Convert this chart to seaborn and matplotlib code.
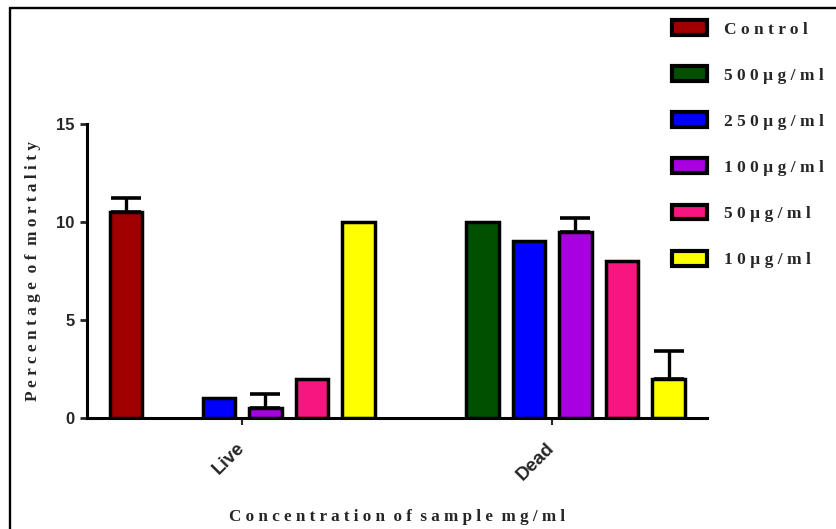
import numpy as np
import pandas as pd
import matplotlib
matplotlib.use("Agg")
import matplotlib.pyplot as plt
import matplotlib.patches as mpatches
from matplotlib.lines import Line2D
import seaborn as sns

# Daten
groups = ["Live", "Dead"]
concs = ["Control", "500 µg/ml", "250 µg/ml", "100 µg/ml", "50 µg/ml", "10 µg/ml"]
live_vals = [10.5, np.nan, 1.0, 0.5, 2.0, 10.0]
dead_vals = [np.nan, 10.0, 9.0, 9.5, 8.0, 2.0]
live_err = [0.7, 0.0, 0.0, 0.7, 0.0, 0.0]
dead_err = [0.0, 0.0, 0.0, 0.7, 0.0, 1.4]
colors = ["#a00000", "#005000", "#0000ff", "#a800e0", "#f5177f", "#ffff00"]
yticks = [0, 5, 10, 15]


def spaced(s, gap="  "):
    # Buchstaben gesperrt wie im Original
    return gap.join(" ".join(w) for w in s.split())


rows = []
for c, lv, dv, le, de in zip(concs, live_vals, dead_vals, live_err, dead_err):
    rows.append({"group": "Live", "conc": c, "value": lv, "err": le})
    rows.append({"group": "Dead", "conc": c, "value": dv, "err": de})
df = pd.DataFrame(rows)

sns.set_style("white")
serif = {"family": "Liberation Serif", "weight": "bold"}
sans = {"family": "Liberation Sans", "weight": "bold"}

fig = plt.figure(figsize=(8.37, 5.29), dpi=100)
ax = fig.add_axes([0.104, 0.21, 0.741, 0.556])

sns.barplot(data=df, x="group", y="value", hue="conc", order=groups,
            hue_order=concs, palette=colors, saturation=1, width=0.9, gap=0.3,
            edgecolor="black", linewidth=2.5, errorbar=None,
            legend=False, ax=ax)

# Fehlerbalken (nur nach oben) an den gezeichneten Balken
valid = df.dropna(subset=["value"])
valid = valid.set_index(["conc", "group"])
ordered = [(c, g) for c in concs for g in groups if (c, g) in valid.index]
for patch, key in zip(ax.patches, ordered):
    err = valid.loc[key, "err"]
    if err > 0:
        xc = patch.get_x() + patch.get_width() / 2
        ax.errorbar(xc, patch.get_height(), yerr=[[0], [err]], color="black",
                    elinewidth=2.4, capsize=11, capthick=2.6, zorder=1)

ax.set_xlim(-0.5, 1.5)
ax.set_ylim(0, 15)
ax.set_yticks(yticks)
ax.set_yticklabels([str(t) for t in yticks], fontdict=sans, fontsize=12)
ax.set_xticks(range(len(groups)))
ax.set_xticklabels(groups, fontdict=sans, fontsize=13.5, rotation=45,
                   ha="right", va="center", rotation_mode="anchor")
ax.tick_params(axis="y", length=5, width=2, direction="out", left=True, pad=4)
ax.tick_params(axis="x", length=5, width=1.5, direction="out", bottom=True, pad=15)

for side in ["top", "right"]:
    ax.spines[side].set_visible(False)
for side in ["left", "bottom"]:
    ax.spines[side].set_linewidth(2.2)
    ax.spines[side].set_color("black")

ax.set_xlabel(spaced("Concentration of sample mg/ml"), fontdict=serif,
              fontsize=12.3, labelpad=18)
ax.set_ylabel(spaced("Percentage of mortality"), fontdict=serif,
              fontsize=12.4, labelpad=11)

handles = [mpatches.Patch(facecolor=col, edgecolor="black", linewidth=3)
           for col in colors]
ax.legend(handles, [spaced(c, " ") for c in concs], loc="upper left",
          bbox_to_anchor=(0.803, 0.962), bbox_transform=fig.transFigure,
          frameon=False, borderpad=0, borderaxespad=0,
          handlelength=2.0, handleheight=0.95, handletextpad=1.0,
          labelspacing=1.65, prop={"family": "Liberation Serif",
                                   "weight": "bold", "size": 12.5})

# Rahmen oben und links
fig.add_artist(Line2D([0.012, 1.0], [0.985, 0.985], transform=fig.transFigure,
                      color="black", linewidth=1.7))
fig.add_artist(Line2D([0.012, 0.012], [0.0, 0.985], transform=fig.transFigure,
                      color="black", linewidth=1.7))

fig.savefig("out.png", dpi=100)
